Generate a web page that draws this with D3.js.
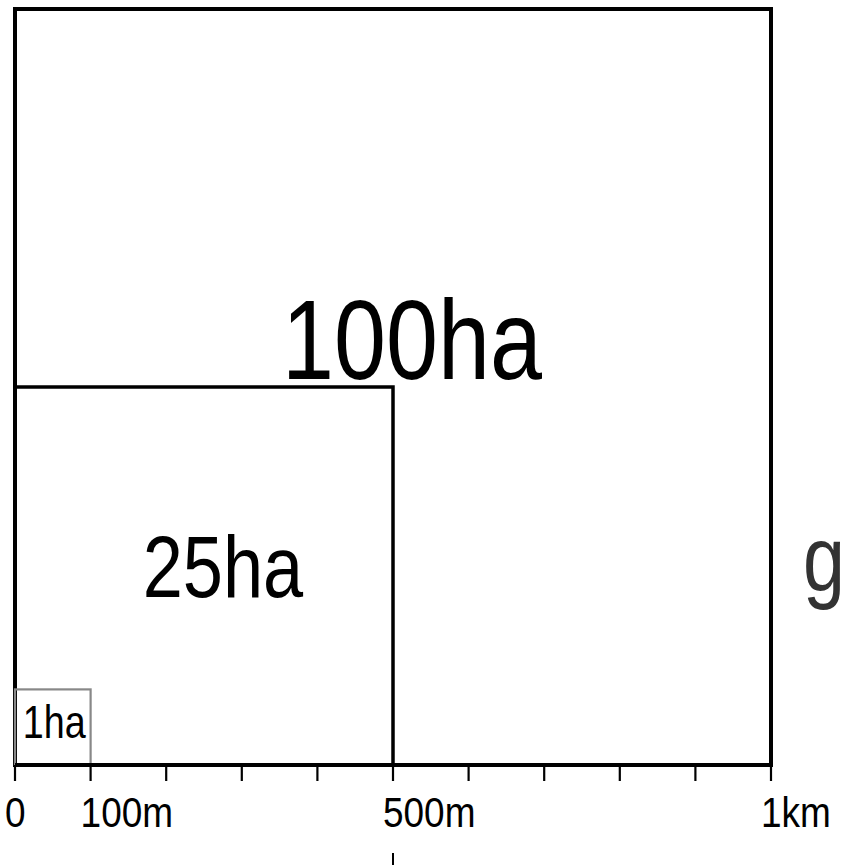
<!DOCTYPE html>
<html>
<head>
<meta charset="utf-8">
<script src="https://cdn.jsdelivr.net/npm/d3@7"></script>
<style>
  html, body { margin: 0; padding: 0; background: #fff; overflow: hidden; }
  text { font-family: "Liberation Sans Narrow", "Arial Narrow", "Liberation Sans", sans-serif; }
</style>
</head>
<body>
<svg id="chart" width="845" height="865"></svg>
<script>
// square side lengths in metres and their labels
var sides = [1000, 500, 100];
var areaLabels = ['100ha', '25ha', '1ha'];
var squareColors = ['#000', '#000', '#888'];

// axis ticks every 100m, only some labelled
var tickValues = d3.range(0, 1001, 100);
var labelledTicks = [0, 100, 500, 1000];
var tickLabels = ['0', '100m', '500m', '1km'];

var svg = d3.select('#chart'),
  margin = { top: 9, right: 74, bottom: 100, left: 15 },
  width = +svg.attr('width'),
  height = +svg.attr('height');

var x = d3.scaleLinear().domain([0, 1000]).range([margin.left, width - margin.right]);
var y = d3.scaleLinear().domain([0, 1000]).range([height - margin.bottom, margin.top]);

// no narrow font installed, so squeeze the regular one
function place(px, py, sq) {
  return 'translate(' + px + ',' + py + ') scale(' + (sq || 0.82) + ',1)';
}

// label placement relative to each square (fraction of side, font size)
var labelPos = [
  { fx: 0.525, fy: 0.51, size: 114 },
  { fx: 0.55, fy: 0.445, size: 88 },
  { fx: 0.52, fy: 0.36, size: 46 }
];

var squares = svg.append('g')
  .selectAll('g')
  .data(sides)
  .enter()
  .append('g');

squares.append('rect')
  .attr('x', x(0))
  .attr('y', function(d) { return y(d); })
  .attr('width', function(d) { return x(d) - x(0); })
  .attr('height', function(d) { return y(0) - y(d); })
  .attr('fill', 'none')
  .attr('stroke', function(d, i) { return squareColors[i]; })
  .attr('stroke-width', function(d, i) { return i === 0 ? 4 : (i === 1 ? 3.5 : 2.2); });

squares.append('text')
  .attr('transform', function(d, i) {
    return place(x(d * labelPos[i].fx), y(d * labelPos[i].fy));
  })
  .attr('text-anchor', 'middle')
  .attr('font-size', function(d, i) { return labelPos[i].size; })
  .attr('fill', '#000')
  .text(function(d, i) { return areaLabels[i]; });

// bottom axis
var axis = svg.append('g')
  .attr('transform', 'translate(0,' + y(0) + ')');

axis.append('line')
  .attr('x1', x(0)).attr('x2', x(1000))
  .attr('stroke', '#000').attr('stroke-width', 4);

axis.selectAll('line.tick')
  .data(tickValues)
  .enter()
  .append('line')
  .attr('class', 'tick')
  .attr('x1', function(d) { return x(d); })
  .attr('x2', function(d) { return x(d); })
  .attr('y1', 0)
  .attr('y2', 16)
  .attr('stroke', '#000')
  .attr('stroke-width', 2.2);

axis.selectAll('text')
  .data(labelledTicks)
  .enter()
  .append('text')
  .attr('transform', function(d) { return place(x(d) - 10, 62, 0.86); })
  .attr('text-anchor', 'start')
  .attr('font-size', 43)
  .attr('fill', '#000')
  .text(function(d, i) { return tickLabels[i]; });

// stray mark below the axis at 500m
axis.append('line')
  .attr('x1', x(500)).attr('x2', x(500))
  .attr('y1', 88).attr('y2', 110)
  .attr('stroke', '#000').attr('stroke-width', 2);

// side label, clipped by the page edge as in the original
svg.append('text')
  .attr('transform', place(x(1000) + 32, y(230)))
  .attr('font-size', 92)
  .attr('fill', '#333')
  .text('gr');
</script>
</body>
</html>
